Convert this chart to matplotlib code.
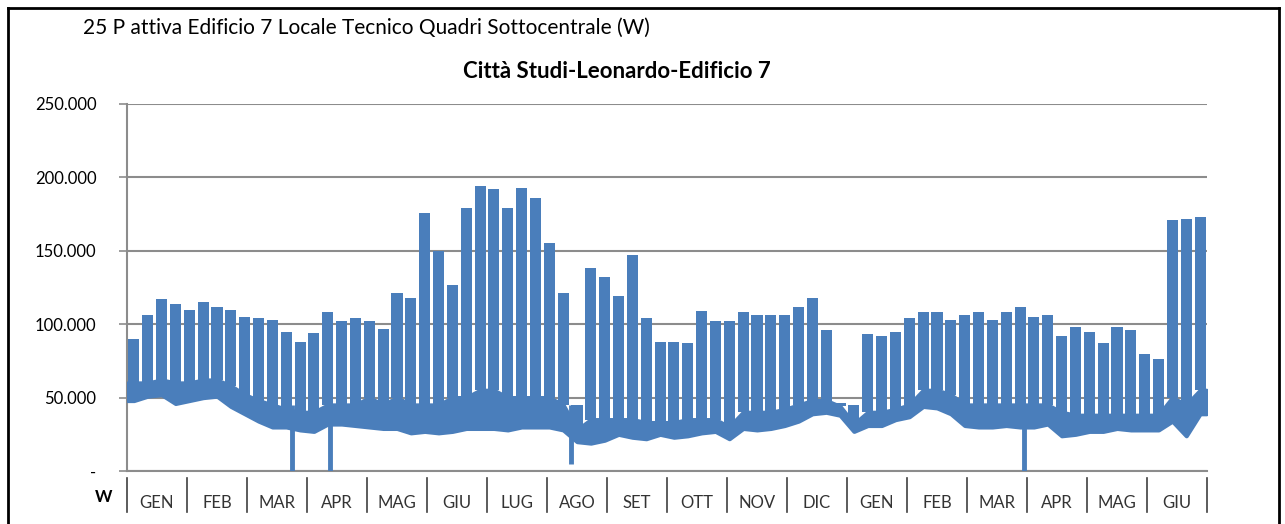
import matplotlib.pyplot as plt
from matplotlib.lines import Line2D
import numpy as np

# weekly values (kW), Jan year 1 -> Jun year 2 (78 weeks)
peak_kw = [90, 106, 117, 114, 110, 115, 112, 110, 105, 104,
           103, 95, 88, 94, 108, 102, 104, 102, 97, 121,
           118, 176, 150, 127, 179, 194, 192, 179, 193, 186,
           155, 121, 45, 138, 132, 119, 147, 104, 88, 88,
           87, 109, 102, 102, 108, 106, 106, 106, 112, 118,
           96, 46, 45, 93, 92, 95, 104, 108, 108, 103,
           106, 108, 103, 108, 112, 105, 106, 92, 98, 95,
           87, 98, 96, 80, 76, 171, 172, 173]
# level reached on weekends / nights (top of the solid band)
base_kw = [60, 60, 62, 60, 60, 62, 62, 58, 52, 48,
           45, 42, 40, 40, 45, 45, 45, 50, 45, 50,
           45, 45, 45, 50, 50, 55, 55, 50, 50, 50,
           50, 45, 28, 35, 35, 35, 35, 33, 33, 33,
           35, 35, 35, 30, 40, 40, 40, 42, 45, 48,
           48, 44, 32, 40, 40, 42, 45, 55, 55, 52,
           45, 45, 45, 45, 45, 45, 45, 40, 38, 38,
           38, 38, 38, 38, 38, 50, 45, 55]
low_kw = [48, 51, 52, 46, 48, 50, 51, 44, 39, 34,
          30, 30, 28, 27, 32, 32, 31, 30, 29, 29,
          26, 27, 26, 27, 29, 29, 29, 28, 30, 30,
          30, 28, 20, 19, 21, 25, 23, 22, 25, 23,
          24, 26, 27, 22, 29, 28, 29, 31, 34, 39,
          40, 38, 27, 31, 31, 35, 37, 44, 43, 39,
          31, 30, 30, 31, 30, 30, 32, 24, 25, 27,
          27, 29, 28, 28, 28, 34, 24, 39]
# single drops to (near) zero
dip_week = [11.9, 14.66, 32.1, 64.8]
dip_kw = [0, 0, 5, 0]

months = ['GEN', 'FEB', 'MAR', 'APR', 'MAG', 'GIU', 'LUG', 'AGO', 'SET',
          'OTT', 'NOV', 'DIC', 'GEN', 'FEB', 'MAR', 'APR', 'MAG', 'GIU']
yticks = [0, 50000, 100000, 150000, 200000, 250000]
ytick_labels = ['-', '50.000', '100.000', '150.000', '200.000', '250.000']

blue = '#4a7ebb'
grid = '#8c8c8c'
plt.rcParams['font.family'] = ['Lato', 'DejaVu Sans']

fig = plt.figure(figsize=(12.85, 5.24), dpi=100)
ax = fig.add_axes([127 / 1285, 53 / 524, 1080 / 1285, 367 / 524])

weeks = np.arange(len(peak_kw)) + 0.5
peak = np.array(peak_kw) * 1000
base = np.array(base_kw) * 1000
low = np.array(low_kw) * 1000
nweeks = len(peak_kw)

# solid band (night/weekend) + working-week peaks
xb = np.concatenate([[0.05], weeks, [nweeks - 0.05]])
ax.fill_between(xb, np.r_[low[0], low, low[-1]], np.r_[base[0], base, base[-1]],
                color=blue, lw=3, edgecolor=blue, zorder=3)
ax.bar(weeks, peak - base, bottom=base, width=0.8, color=blue, lw=0, zorder=3)
ax.vlines(dip_week, np.array(dip_kw) * 1000, 45000, color=blue, lw=3.5, zorder=3)

ax.set_xlim(0, nweeks)
ax.set_ylim(0, 250000)
ax.set_yticks(yticks)
ax.set_yticklabels(ytick_labels, fontsize=12)
ax.tick_params(axis='y', length=6, color=grid, width=1.2, pad=16)
ax.yaxis.grid(True, color=grid, lw=1.5, zorder=0)
for s in ['top', 'right']:
    ax.spines[s].set_visible(False)
ax.spines['left'].set_color(grid)
ax.spines['left'].set_linewidth(1.5)
ax.spines['bottom'].set_color(grid)
ax.spines['bottom'].set_linewidth(1.5)

# month labels and separators
mw = nweeks / len(months)
ax.set_xticks([(i + 0.5) * mw for i in range(len(months))])
ax.set_xticklabels(months, fontsize=12, color='#333333')
ax.tick_params(axis='x', length=0, pad=17)
for i in range(len(months) + 1):
    ax.add_line(Line2D([i * mw, i * mw], [-0.02, -0.112], color='#404040', lw=1.2,
                       transform=ax.get_xaxis_transform(), clip_on=False))
ax.text(-0.014, -0.07, 'W', transform=ax.transAxes, ha='right', va='center',
        fontsize=12, fontweight='bold')

fig.text(617 / 1285, 1 - 72 / 524, 'Città Studi-Leonardo-Edificio 7', fontsize=16,
         fontweight='bold', ha='center', va='center')
fig.text(83 / 1285, 1 - 28 / 524, '25 P attiva Edificio 7 Locale Tecnico Quadri Sottocentrale (W)',
         fontsize=15, va='center', ha='left')

# outer frame
fig.add_artist(Line2D([8 / 1285, 8 / 1285], [0, 1 - 8 / 524], color='black', lw=2))
fig.add_artist(Line2D([8 / 1285, 1279 / 1285], [1 - 8 / 524, 1 - 8 / 524], color='black', lw=2))
fig.add_artist(Line2D([1279 / 1285, 1279 / 1285], [0, 1 - 8 / 524], color='black', lw=2))

plt.savefig('out.png', dpi=100)
